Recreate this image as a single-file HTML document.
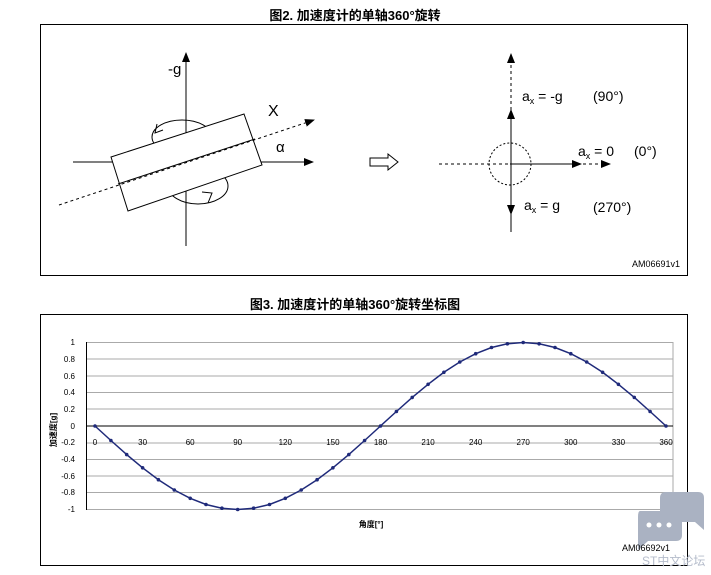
<!DOCTYPE html>
<html><head><meta charset="utf-8"><style>
body{margin:0;background:#fff;width:711px;height:575px;overflow:hidden}
svg{display:block}
text{font-family:"Liberation Sans","Noto Sans CJK SC",sans-serif}
</style></head><body>
<svg width="711" height="575" viewBox="0 0 711 575" xmlns="http://www.w3.org/2000/svg">
<defs>
<marker id="ah" markerWidth="10" markerHeight="8" refX="9" refY="4" orient="auto" markerUnits="userSpaceOnUse"><path d="M0,0 L10,4 L0,8 Z" fill="#000"/></marker>
</defs>
<text x="355" y="20" font-size="13" font-weight="bold" text-anchor="middle">图2. 加速度计的单轴360°旋转</text>
<rect x="40.5" y="24.5" width="647" height="251" fill="none" stroke="#000" stroke-width="1"/>
<line x1="186" y1="246" x2="186" y2="53" stroke="#000" marker-end="url(#ah)"/>
<line x1="73" y1="162" x2="313" y2="162" stroke="#000" marker-end="url(#ah)"/>
<text x="168" y="74" font-size="15">-g</text>
<ellipse cx="182" cy="137" rx="30" ry="17" fill="none" stroke="#000"/>
<ellipse cx="198" cy="186" rx="30" ry="18" fill="none" stroke="#000"/>
<polygon points="111,157 244,114 262,165 128,211" fill="#fff" stroke="#000"/>
<line x1="59" y1="205" x2="314" y2="120" stroke="#000" stroke-dasharray="3,3" marker-end="url(#ah)"/>
<line x1="118" y1="184" x2="255" y2="139" stroke="#000"/>
<text x="268" y="116" font-size="16">X</text>
<text x="276" y="152" font-size="15">α</text>
<path d="M157,124 L155,133 L163,130" fill="none" stroke="#000"/>
<path d="M202,192 L212,193 L208,203" fill="none" stroke="#000"/>
<path d="M370,158 L388,158 L388,154 L398,162 L388,170 L388,166 L370,166 Z" fill="#fff" stroke="#000"/>
<line x1="511" y1="110" x2="511" y2="54" stroke="#000" stroke-dasharray="3,3" marker-end="url(#ah)"/>
<line x1="511" y1="164" x2="511" y2="110" stroke="#000" marker-end="url(#ah)"/>
<line x1="511" y1="164" x2="511" y2="214" stroke="#000" marker-end="url(#ah)"/>
<line x1="511" y1="212" x2="511" y2="232" stroke="#000"/>
<circle cx="510" cy="164" r="21" fill="none" stroke="#000" stroke-dasharray="2,2"/>
<line x1="439" y1="164" x2="610" y2="164" stroke="#000" stroke-dasharray="3,3" marker-end="url(#ah)"/>
<line x1="510" y1="164" x2="581" y2="164" stroke="#000" marker-end="url(#ah)"/>
<g font-size="14">
<text x="522" y="101">a<tspan font-size="9" dy="3">x</tspan><tspan dy="-3"> = -g</tspan></text>
<text x="593" y="101">(90°)</text>
<text x="578" y="156">a<tspan font-size="9" dy="3">x</tspan><tspan dy="-3"> = 0</tspan></text>
<text x="634" y="156">(0°)</text>
<text x="524" y="210">a<tspan font-size="9" dy="3">x</tspan><tspan dy="-3"> =  g</tspan></text>
<text x="593" y="212">(270°)</text>
</g>
<text x="680" y="267" font-size="9" text-anchor="end">AM06691v1</text>

<text x="355" y="309" font-size="13" font-weight="bold" text-anchor="middle">图3. 加速度计的单轴360°旋转坐标图</text>
<rect x="40.5" y="314.5" width="647" height="251" fill="none" stroke="#000"/>
<g stroke="#aaa" stroke-width="1">
<line x1="86" y1="342.5" x2="673" y2="342.5"/>
<line x1="86" y1="359" x2="673" y2="359"/>
<line x1="86" y1="376" x2="673" y2="376"/>
<line x1="86" y1="392.5" x2="673" y2="392.5"/>
<line x1="86" y1="409" x2="673" y2="409"/>
<line x1="86" y1="443" x2="673" y2="443"/>
<line x1="86" y1="459.5" x2="673" y2="459.5"/>
<line x1="86" y1="476" x2="673" y2="476"/>
<line x1="86" y1="492.5" x2="673" y2="492.5"/>
<line x1="86" y1="509.5" x2="673" y2="509.5"/>
<line x1="673" y1="342" x2="673" y2="510"/>
</g>
<line x1="86.5" y1="342" x2="86.5" y2="510" stroke="#000"/>
<line x1="86" y1="426" x2="673" y2="426" stroke="#000"/>
<g font-size="8" text-anchor="end">
<text x="75" y="345">1</text><text x="75" y="362">0.8</text><text x="75" y="379">0.6</text>
<text x="75" y="395">0.4</text><text x="75" y="412">0.2</text><text x="75" y="429">0</text>
<text x="75" y="445">-0.2</text><text x="75" y="462">-0.4</text><text x="75" y="479">-0.6</text>
<text x="75" y="495">-0.8</text><text x="75" y="512">-1</text>
</g>
<g font-size="8" text-anchor="middle">
<text x="95" y="445">0</text><text x="142.6" y="445">30</text><text x="190.2" y="445">60</text>
<text x="237.7" y="445">90</text><text x="285.3" y="445">120</text><text x="332.9" y="445">150</text>
<text x="380.5" y="445">180</text><text x="428.1" y="445">210</text><text x="475.7" y="445">240</text>
<text x="523.2" y="445">270</text><text x="570.8" y="445">300</text><text x="618.4" y="445">330</text>
<text x="666" y="445">360</text>
</g>
<text x="0" y="0" font-size="8" font-weight="bold" transform="translate(56,430) rotate(-90)" text-anchor="middle">加速度[g]</text>
<text x="371" y="527" font-size="8" font-weight="bold" text-anchor="middle">角度[°]</text>
<polyline fill="none" stroke="#1f2a7a" stroke-width="1.5" points="95,426 110.9,440.5 126.7,454.6 142.6,467.8 158.4,479.7 174.3,490 190.2,498.3 206,504.5 221.9,508.2 237.7,509.5 253.6,508.2 269.5,504.5 285.3,498.3 301.2,490 317.1,479.7 332.9,467.8 348.8,454.6 364.6,440.5 380.5,426 396.4,411.5 412.2,397.4 428.1,384.3 443.9,372.3 459.8,362 475.7,353.7 491.5,347.5 507.4,343.8 523.2,342.5 539.1,343.8 555,347.5 570.8,353.7 586.7,362 602.6,372.3 618.4,384.3 634.3,397.4 650.1,411.5 666,426"/>
<g fill="#1f2a7a">
<circle cx="95" cy="426" r="1.8"/><circle cx="110.9" cy="440.5" r="1.8"/><circle cx="126.7" cy="454.6" r="1.8"/><circle cx="142.6" cy="467.8" r="1.8"/><circle cx="158.4" cy="479.7" r="1.8"/><circle cx="174.3" cy="490" r="1.8"/><circle cx="190.2" cy="498.3" r="1.8"/><circle cx="206" cy="504.5" r="1.8"/><circle cx="221.9" cy="508.2" r="1.8"/><circle cx="237.7" cy="509.5" r="1.8"/><circle cx="253.6" cy="508.2" r="1.8"/><circle cx="269.5" cy="504.5" r="1.8"/><circle cx="285.3" cy="498.3" r="1.8"/><circle cx="301.2" cy="490" r="1.8"/><circle cx="317.1" cy="479.7" r="1.8"/><circle cx="332.9" cy="467.8" r="1.8"/><circle cx="348.8" cy="454.6" r="1.8"/><circle cx="364.6" cy="440.5" r="1.8"/><circle cx="380.5" cy="426" r="1.8"/><circle cx="396.4" cy="411.5" r="1.8"/><circle cx="412.2" cy="397.4" r="1.8"/><circle cx="428.1" cy="384.3" r="1.8"/><circle cx="443.9" cy="372.3" r="1.8"/><circle cx="459.8" cy="362" r="1.8"/><circle cx="475.7" cy="353.7" r="1.8"/><circle cx="491.5" cy="347.5" r="1.8"/><circle cx="507.4" cy="343.8" r="1.8"/><circle cx="523.2" cy="342.5" r="1.8"/><circle cx="539.1" cy="343.8" r="1.8"/><circle cx="555" cy="347.5" r="1.8"/><circle cx="570.8" cy="353.7" r="1.8"/><circle cx="586.7" cy="362" r="1.8"/><circle cx="602.6" cy="372.3" r="1.8"/><circle cx="618.4" cy="384.3" r="1.8"/><circle cx="634.3" cy="397.4" r="1.8"/><circle cx="650.1" cy="411.5" r="1.8"/><circle cx="666" cy="426" r="1.8"/>
</g>
<path d="M666,492 L698,492 Q704,492 704,498 L704,530 L695,522 L666,522 Q660,522 660,516 L660,498 Q660,492 666,492 Z" fill="#aab2c2"/>
<path d="M640,511 L676,511 Q682,511 682,517 L682,535 Q682,541 676,541 L648,541 L638,550 L638,517 Q638,511 640,511 Z" fill="#aab2c2"/>
<circle cx="649" cy="525" r="2.5" fill="#fff"/><circle cx="659" cy="525" r="2.5" fill="#fff"/><circle cx="669" cy="525" r="2.5" fill="#fff"/>
<text x="670" y="551" font-size="9" text-anchor="end">AM06692v1</text>
<text x="642" y="565" font-size="12" fill="#b5bccb">ST中文论坛</text>
</svg>
</body></html>
